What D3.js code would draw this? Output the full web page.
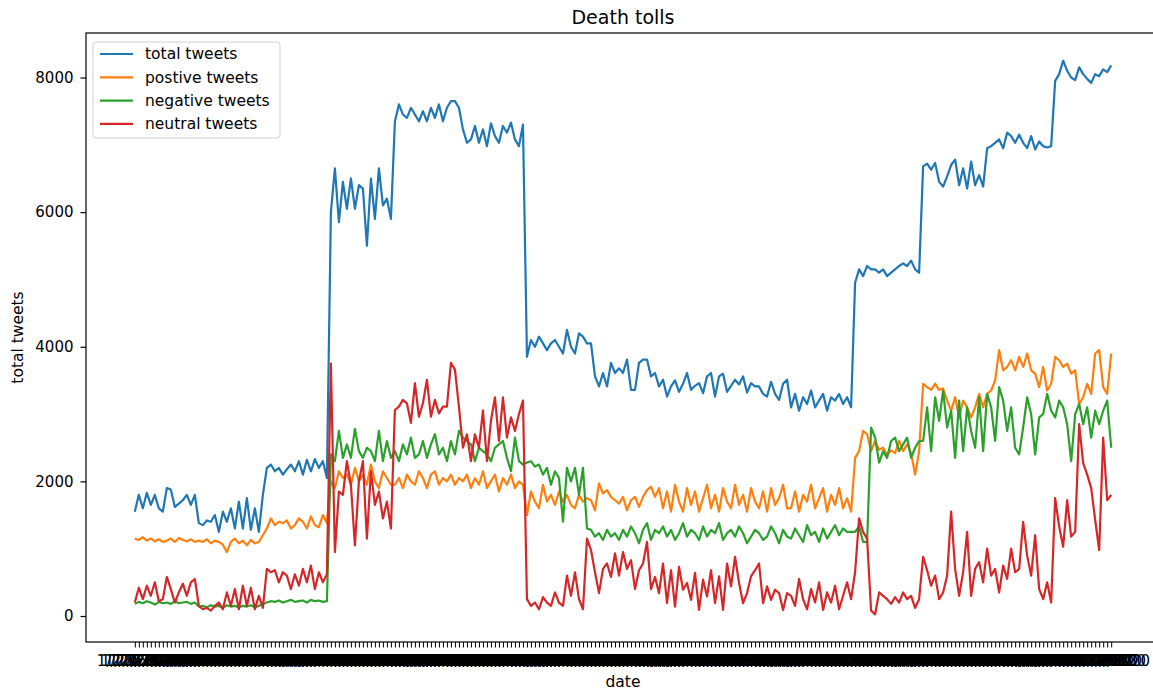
<!DOCTYPE html>
<html>
<head>
<meta charset="utf-8">
<script src="https://cdn.jsdelivr.net/npm/d3@7"></script>
<style>
  body { margin: 0; background: #fff; }
  svg { display: block; font-family: "DejaVu Sans", sans-serif; }
</style>
</head>
<body>
<svg id="chart"></svg>
<script>
// values, one per day
const totalTweets = [1550,1800,1600,1830,1650,1800,1600,1550,1900,1880,1620,1670,1720,1800,1650,1800,
  1380,1350,1420,1400,1500,1250,1550,1400,1600,1300,1700,1300,1750,1280,1600,1250,1800,
  2200,2250,2150,2200,2100,2180,2250,2150,2300,2100,2320,2150,2330,2200,2300,2050,
  6000,6650,5850,6450,6050,6500,6050,6400,6350,5500,6500,5900,6650,6100,6200,5900,
  7350,7600,7450,7400,7550,7450,7350,7500,7350,7550,7400,7600,7350,7550,7650,7650,7550,
  7230,7030,7080,7280,7030,7230,6980,7320,7130,7030,7280,7180,7330,7080,6980,7300,
  3850,4100,4000,4150,4050,3950,4050,4100,4000,3900,4250,4000,3900,4200,4150,4050,4050,
  3560,3410,3610,3410,3760,3610,3680,3610,3810,3360,3360,3760,3810,3810,3560,3610,
  3410,3510,3260,3410,3500,3330,3450,3610,3360,3420,3460,3310,3560,3610,3260,3560,3600,
  3330,3420,3510,3440,3560,3320,3460,3410,3410,3300,3260,3480,3300,3210,3450,3510,
  3100,3300,3050,3250,3150,3350,3100,3200,3300,3050,3250,3200,3300,3150,3250,3100,
  4950,5150,5050,5200,5150,5150,5100,5150,5050,5100,5150,5200,5240,5200,5280,5150,5100,
  6680,6720,6630,6730,6450,6380,6530,6700,6780,6400,6650,6350,6750,6400,6550,6380,
  6950,6980,7030,7080,6950,7180,7130,7030,7150,7030,6950,7130,6930,7050,6980,6960,6980,
  7950,8050,8250,8100,8000,7960,8150,8050,7980,7920,8050,8020,8120,8080,8180]

const positiveTweets = [1150,1130,1170,1120,1150,1110,1140,1100,1120,1150,1100,1160,1130,1110,1140,1100,
  1120,1100,1140,1080,1120,1100,1060,950,1100,1150,1080,1120,1050,1130,1080,1100,1200,
  1300,1450,1350,1400,1380,1420,1300,1350,1450,1400,1300,1480,1350,1320,1500,1380,
  2000,1900,2150,2050,2100,1950,2200,2000,2100,1950,2250,2000,1900,2150,2050,1950,
  1950,2050,1900,2100,2000,1950,2150,2050,1900,2100,2150,1950,2050,2000,2100,1950,2050,
  2000,2100,1900,2050,1950,2150,1900,2000,2100,1850,2050,1950,2100,1900,2000,1950,
  1500,1850,1700,1600,1950,1700,1800,1650,1850,1700,1800,1650,1600,1800,1700,1750,1720,
  1570,1970,1820,1870,1770,1720,1670,1770,1570,1720,1770,1620,1770,1870,1920,1770,
  1900,1600,1850,1550,1950,1700,1550,1900,1650,1850,1550,1750,1950,1600,1800,1550,1900,
  1700,1600,1950,1650,1800,1550,1900,1700,1600,1850,1550,1900,1650,1750,1950,1600,
  1600,1850,1550,1800,1700,1950,1600,1750,1900,1550,1800,1650,1900,1600,1750,1550,
  2350,2450,2750,2700,2450,2600,2470,2500,2400,2460,2420,2600,2450,2550,2420,2100,2450,
  3450,3400,3360,3450,3360,3380,3200,3050,3250,2950,3200,3100,2950,3100,3300,3100,
  3300,3350,3500,3950,3650,3700,3800,3650,3850,3700,3900,3650,3600,3400,3700,3350,3450,
  3850,3800,3700,3750,3600,3650,3150,3250,3450,3300,3900,3950,3400,3300,3900]

const negativeTweets = [180,210,190,220,200,170,210,190,200,180,220,190,200,210,180,200,
  140,150,130,160,140,150,120,160,140,150,130,150,140,160,130,150,180,
  200,220,210,230,200,220,240,210,220,230,200,240,220,230,210,220,
  2400,2300,2750,2350,2550,2350,2780,2450,2350,2500,2450,2300,2750,2300,2600,2350,
  2450,2300,2550,2400,2650,2350,2400,2600,2350,2550,2700,2400,2500,2300,2600,2400,2750,
  2650,2600,2550,2300,2500,2450,2400,2300,2500,2550,2600,2350,2150,2650,2300,2250,
  2280,2300,2220,2250,2100,2200,1950,2150,2050,1400,2200,2000,2200,1800,2200,1300,
  1280,1180,1230,1130,1280,1180,1230,1130,1280,1180,1330,1230,1080,1280,1380,1130,1280,
  1230,1330,1180,1280,1130,1230,1380,1180,1280,1230,1130,1330,1180,1280,1230,1380,1130,
  1230,1280,1180,1330,1230,1080,1180,1280,1230,1130,1180,1330,1230,1080,1280,1180,
  1150,1300,1200,1100,1350,1200,1250,1100,1300,1150,1250,1350,1200,1300,1250,1250,
  1250,1330,1100,1100,2800,2650,2280,2450,2350,2600,2650,2450,2550,2650,2350,2500,2600,
  2600,3100,2450,3250,2900,3350,2800,3050,2350,3200,2450,3100,2750,2500,3250,2450,
  3300,3100,2600,3400,3200,2750,3100,2500,2400,2800,3250,3000,2400,2950,3000,3300,3050,
  2950,3200,3100,2850,2300,3000,3150,2850,3100,2650,3050,2850,3050,3200,2500]

const neutralTweets = [200,420,250,450,300,500,220,250,580,400,200,350,480,300,500,550,
  150,100,120,80,150,200,100,350,150,400,100,450,150,420,100,300,120,
  700,650,680,500,650,600,400,620,450,700,500,750,400,650,500,620,
  3750,950,1850,1800,2300,1950,1050,2000,2300,1150,2150,1650,1850,1450,1700,1300,
  3060,3110,3210,3160,2870,3460,2960,3160,3510,2960,3210,3010,3110,3110,3760,3660,3110,
  2500,2700,2300,2700,2500,3050,2300,2900,3250,2600,3250,2650,2950,2750,3000,3200,
  250,150,200,100,280,200,150,350,200,150,600,300,650,250,100,1150,
  980,650,340,700,780,580,930,600,950,700,830,400,680,780,1100,400,580,
  340,780,190,680,140,730,390,490,240,640,90,540,290,680,190,590,90,
  780,440,880,490,190,340,590,680,780,190,440,240,390,340,90,340,
  300,150,550,250,100,400,200,500,90,350,200,450,100,300,500,250,
  650,1450,1250,1150,80,25,350,300,250,180,280,200,350,250,300,120,250,
  880,680,450,600,250,350,600,1550,700,300,650,1250,300,700,800,500,
  1000,600,700,350,750,550,1000,650,700,1400,900,600,1200,400,250,500,200,
  1750,1330,1030,1720,1180,1250,2850,2270,2100,1900,1430,980,2650,1720,1800]

const seriesNames = ["total tweets", "postive tweets", "negative tweets", "neutral tweets"]
const seriesColors = ["#1f77b4", "#ff7f0e", "#2ca02c", "#d62728"]
const yTicks = [0, 2000, 4000, 6000, 8000]
const startDate = new Date(2020, 0, 22)

const fmt = d3.timeFormat("%-m/%-d/%Y")
const dates = d3.timeDay.range(startDate, d3.timeDay.offset(startDate, totalTweets.length)).map(fmt)
const series = [totalTweets, positiveTweets, negativeTweets, neutralTweets]

const svgWidth = 1153
const svgHeight = 690
// axes box (right edge falls outside the picture, like the reference)
const box = {left: 86, right: 1160, top: 33, bottom: 642}

const svg = d3.select("#chart")
  .attr("width", svgWidth)
  .attr("height", svgHeight)

// matplotlib style 5% margins
const x = d3.scalePoint()
  .domain(dates)
  .range([box.left, box.right])
  .padding(0.05 * (dates.length - 1))

const allValues = series.flat()
const lo = d3.min(allValues), hi = d3.max(allValues)
const pad = (hi - lo) * 0.05
const y = d3.scaleLinear()
  .domain([lo - pad, hi + pad])
  .range([box.bottom, box.top])

// x axis: one tick per day, labels pile up like in the original
const xAxis = svg.append("g")
  .attr("transform", "translate(0," + box.bottom + ")")
  .call(d3.axisBottom(x).tickSize(5.5).tickPadding(8))
xAxis.select(".domain").remove()
xAxis.selectAll("line").attr("stroke", "#000").attr("stroke-width", 1)
xAxis.selectAll("text")
  .attr("fill", "#000")
  .style("font-size", "15px")
  .style("font-family", "DejaVu Sans")

const yAxis = svg.append("g")
  .attr("transform", "translate(" + box.left + ",0)")
  .call(d3.axisLeft(y).tickValues(yTicks).tickFormat(d3.format("d")).tickSize(5.5).tickPadding(7))
yAxis.select(".domain").remove()
yAxis.selectAll("line").attr("stroke", "#000").attr("stroke-width", 1.2)
yAxis.selectAll("text")
  .attr("fill", "#000")
  .style("font-size", "15px")
  .style("font-family", "DejaVu Sans")

// lines
const line = d3.line()
  .x((d, i) => x(dates[i]))
  .y(d => y(d))

svg.selectAll("path.series")
  .data(series)
  .enter()
  .append("path")
  .attr("class", "series")
  .attr("d", line)
  .attr("fill", "none")
  .attr("stroke", (d, i) => seriesColors[i])
  .attr("stroke-width", 2.2)
  .attr("stroke-linejoin", "round")

// frame
svg.append("rect")
  .attr("x", box.left)
  .attr("y", box.top)
  .attr("width", box.right - box.left)
  .attr("height", box.bottom - box.top)
  .attr("fill", "none")
  .attr("stroke", "#000")
  .attr("stroke-width", 1.2)

// legend
const legend = svg.append("g").attr("transform", "translate(93,42)")
legend.append("rect")
  .attr("width", 187)
  .attr("height", 96)
  .attr("rx", 3)
  .attr("fill", "#fff")
  .attr("fill-opacity", 0.8)
  .attr("stroke", "#d0d0d0")

const rows = legend.selectAll("g.row")
  .data(seriesNames)
  .enter()
  .append("g")
  .attr("class", "row")
  .attr("transform", (d, i) => "translate(0," + (12 + i * 23.3) + ")")
rows.append("line")
  .attr("x1", 7).attr("x2", 40)
  .attr("stroke", (d, i) => seriesColors[i])
  .attr("stroke-width", 2.2)
rows.append("text")
  .attr("x", 52)
  .attr("dy", "0.35em")
  .style("font-size", "15.5px")
  .attr("fill", "#000")
  .text(d => d)

// title and axis labels
svg.append("text")
  .attr("x", (box.left + box.right) / 2)
  .attr("y", 24)
  .attr("text-anchor", "middle")
  .style("font-size", "19px")
  .text("Death tolls")

svg.append("text")
  .attr("x", (box.left + box.right) / 2)
  .attr("y", 687)
  .attr("text-anchor", "middle")
  .style("font-size", "15.5px")
  .text("date")

svg.append("text")
  .attr("transform", "translate(23," + (box.top + box.bottom) / 2 + ") rotate(-90)")
  .attr("text-anchor", "middle")
  .style("font-size", "15.5px")
  .text("total tweets")
</script>
</body>
</html>
